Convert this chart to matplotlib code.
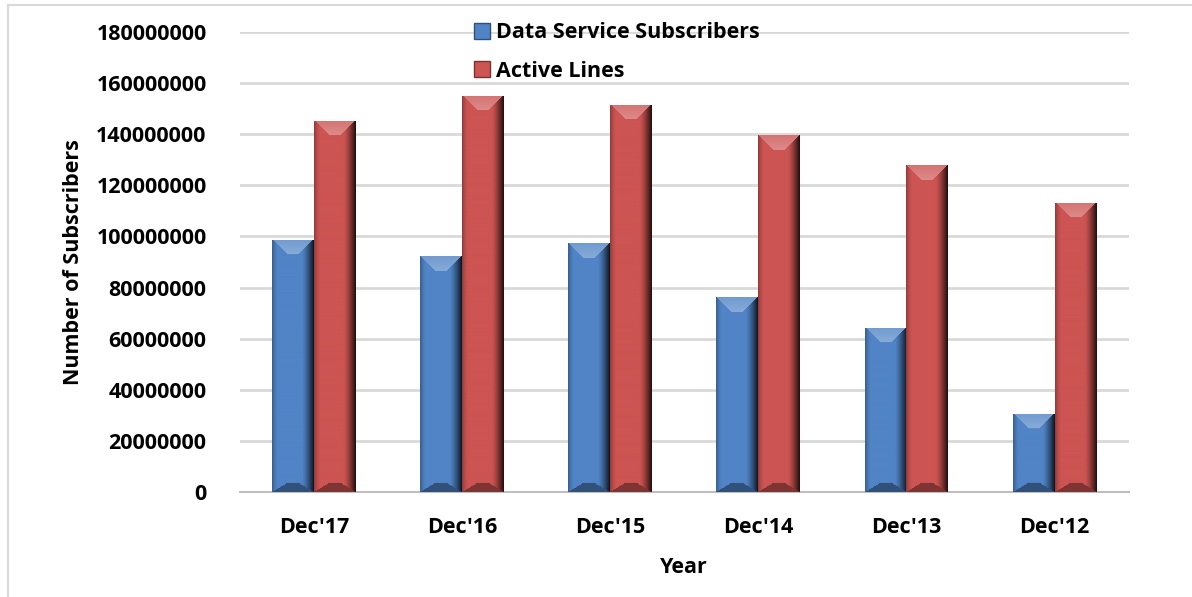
import numpy as np
import matplotlib
matplotlib.use("Agg")
import matplotlib.pyplot as plt
from matplotlib.patches import Patch
from matplotlib.lines import Line2D

# values
years = ["Dec'17", "Dec'16", "Dec'15", "Dec'14", "Dec'13", "Dec'12"]
data_subs = [98800000, 92300000, 97300000, 76300000, 64200000, 30600000]
active_lines = [145200000, 155000000, 151500000, 139600000, 127800000, 113200000]
yticks = list(range(0, 180000001, 20000000))

blue = np.array([80, 132, 198]) / 255
red = np.array([204, 84, 82]) / 255

plt.rcParams['font.family'] = ['Open Sans', 'DejaVu Sans']
plt.rcParams['font.weight'] = 'bold'

fig = plt.figure(figsize=(11.92, 5.97), dpi=100)
ax = fig.add_axes([0.2013, 0.1759, 0.7455, 0.7705])

x = np.arange(len(years))
w = 0.283
b1 = ax.bar(x - w / 2, data_subs, w, color=blue, zorder=2)
b2 = ax.bar(x + w / 2, active_lines, w, color=red, zorder=2)

ax.set_xlim(-0.5, len(years) - 0.5)
ax.set_ylim(0, 180000000)
ax.set_yticks(yticks)
ax.set_yticklabels([str(v) for v in yticks])
ax.set_xticks(x)
ax.set_xticklabels(years)
ax.tick_params(axis='both', length=0, labelsize=15.5)
ax.tick_params(axis='y', pad=24)
ax.tick_params(axis='x', pad=18)
ax.grid(axis='y', color='#d9d9d9', linewidth=2, zorder=0)
ax.set_axisbelow(True)
for s in ['left', 'right', 'top']:
    ax.spines[s].set_visible(False)
ax.spines['bottom'].set_color('#bfbfbf')
ax.spines['bottom'].set_linewidth(1.5)

ax.set_ylabel("Number of Subscribers", fontsize=15.5, fontweight='bold')
ax.set_xlabel("Year", fontsize=15.5, fontweight='bold')
ax.yaxis.set_label_coords(-0.176, 0.5)
ax.xaxis.set_label_coords(0.5, -0.142)


def bevel(ax, patch, base, bs=15, bb=9):
    # fake Excel "angle" bevel: light top chevron, shaded sides
    (x0, y0), (x1, y1) = ax.transData.transform(
        [(patch.get_x(), patch.get_y()),
         (patch.get_x() + patch.get_width(), patch.get_y() + patch.get_height())])
    wp = max(int(round(x1 - x0)), 2)
    hp = max(int(round(y1 - y0)), 2)
    jj, ii = np.meshgrid(np.arange(wp) + 0.5, np.arange(hp) + 0.5)
    dl, dr = jj, wp - jj
    dt, db = ii, hp - ii
    d = np.stack([dl / bs, dr / bs, dt / bs, db / bb])
    face = np.argmin(d, axis=0)
    near = d.min(axis=0) < 1
    img = np.tile(base, (hp, wp, 1)).astype(float)
    white = np.ones(3)
    # side shading applies to left/right faces and the body
    sl = np.clip(1 - dl / 6, 0, 1)
    sr = np.clip(1 - dr / 12, 0, 1)
    shade = 1 - 0.3 * sl ** 1.5 - 0.85 * sr ** 1.3
    side = ~(near & ((face == 2) | (face == 3)))
    img[side] = base * shade[side][:, None]
    m = near & (face == 2)
    t = np.clip(dt[m] / bs, 0, 1)[:, None]
    img[m] = base + (white - base) * (0.18 + 0.14 * t)
    m = near & (face == 3)
    img[m] = base * 0.62
    im = ax.imshow(img, extent=[patch.get_x(), patch.get_x() + patch.get_width(),
                                patch.get_y(), patch.get_y() + patch.get_height()],
                   aspect='auto', origin='upper', zorder=3, interpolation='bilinear')
    im.set_clip_path(patch)


for p in b1:
    bevel(ax, p, blue)
for p in b2:
    bevel(ax, p, red)
ax.set_xlim(-0.5, len(years) - 0.5)
ax.set_ylim(0, 180000000)

handles = [Patch(facecolor=blue, edgecolor=blue * 0.6, label="Data Service Subscribers"),
           Patch(facecolor=red, edgecolor=red * 0.6, label="Active Lines")]
fig.legend(handles=handles, loc='upper left', bbox_to_anchor=(0.381, 0.995),
           frameon=False, handlelength=0.75, handleheight=0.75,
           handletextpad=0.3, labelspacing=0.8, prop={'weight': 'bold', 'size': 15.5})

# outer chart border (top and left edges visible)
fig.add_artist(Line2D([0.007, 0.007], [0, 0.992], transform=fig.transFigure,
                      color='#d9d9d9', linewidth=1.5))
fig.add_artist(Line2D([0.007, 1.0], [0.992, 0.992], transform=fig.transFigure,
                      color='#d9d9d9', linewidth=1.5))

fig.savefig("out.png", dpi=100)
